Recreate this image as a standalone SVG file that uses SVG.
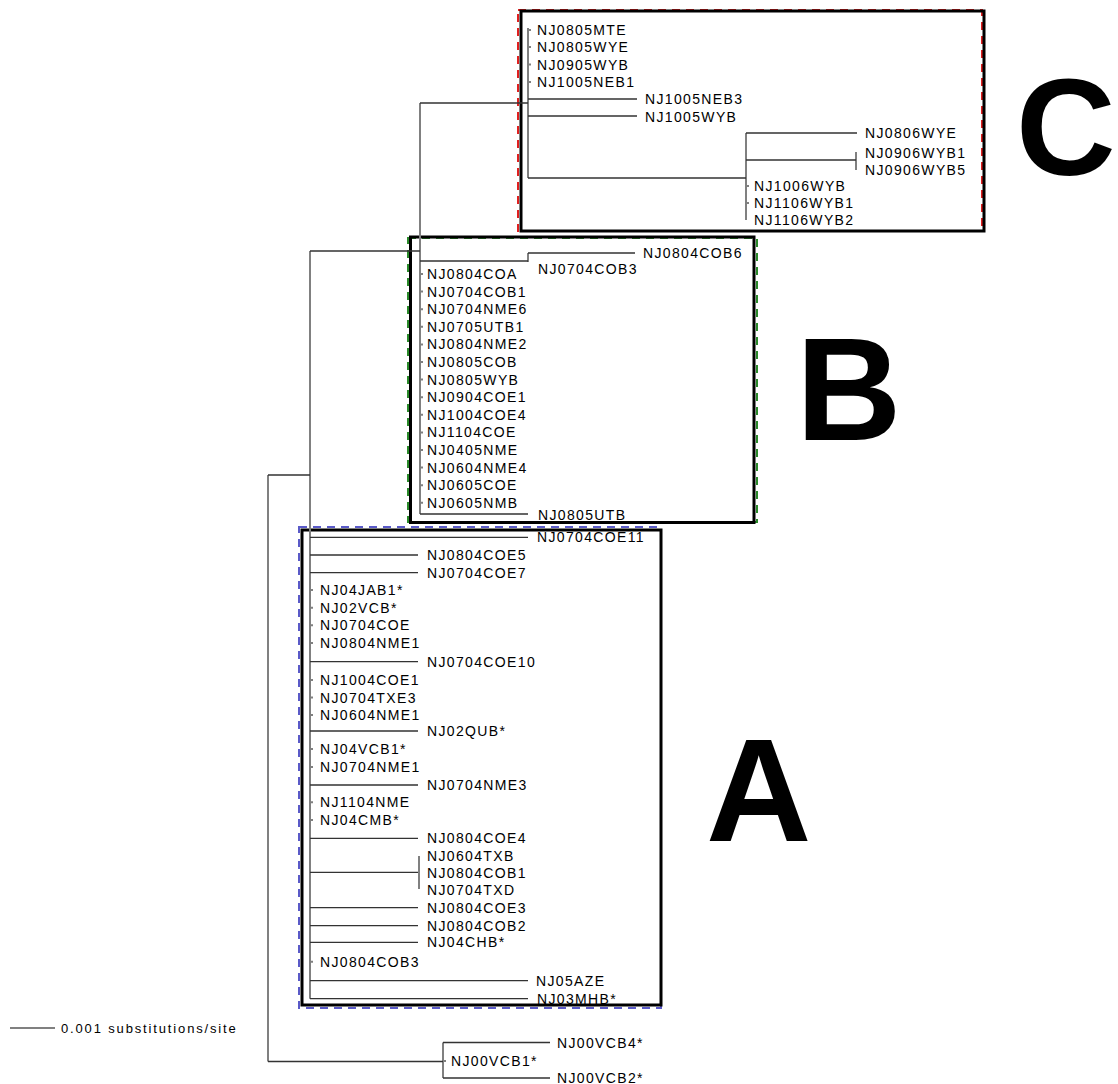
<svg xmlns="http://www.w3.org/2000/svg" width="1118" height="1084" viewBox="0 0 1118 1084">
<style>
.v{stroke:#808080;stroke-width:2;fill:none}
.h{stroke:#333;stroke-width:1.3;fill:none}
.t{font-family:"Liberation Sans",Arial,sans-serif;font-size:14px;letter-spacing:1.35px;fill:#000}
.big{font-family:"Liberation Sans",Arial,sans-serif;font-weight:bold;font-size:146px;fill:#000}
.box{fill:none;stroke:#000;stroke-width:3}
</style>
<rect width="1118" height="1084" fill="#fff"/>
<g id="boxes">
<rect x="518" y="10" width="464" height="221" fill="none" stroke="#e02020" stroke-width="2" stroke-dasharray="8,6"/>
<rect x="521" y="11" width="463" height="220" class="box"/>
<rect x="408" y="238" width="349" height="284" fill="none" stroke="#2a8a2a" stroke-width="2" stroke-dasharray="8,6"/>
<rect x="410.5" y="237" width="343.5" height="285.5" class="box"/>
<rect x="299" y="527" width="362" height="481" fill="none" stroke="#5a5ac8" stroke-width="2" stroke-dasharray="8,6"/>
<rect x="302" y="530" width="359" height="475" class="box"/>
</g>
<g id="connectors">
<path class="v" d="M268 475V1061.5M443 1042.5V1078M310 251V998.7M420 103V514M528 253V262M528 28V178M746 133V220M856 152V170M419 856V889"/>
<path class="h" d="M268 475H310M268 1061.5H443M443 1042.5H550M443 1078H550M310 251H420M420 103H528M420 261H528M420 514H528M528 253H635M528 99H637M528 116H637M528 178H746M746 133H857M746 160H856"/>
<path class="h" d="M310 537.3H528M310 555H418M310 572.7H418M310 661.7H418M310 731H418M310 785H418M310 838.3H418M310 872.3H418M310 907.7H418M310 925.7H418M310 942.3H418M310 980.7H528M310 998.7H528"/>
<path class="v" stroke-width="1" d="M528 30H531M528 47H531M528 64.5H531M528 82H531M746 186H749M746 203H749M420 274H423M420 291.6H423M420 309.2H423M420 326.8H423M420 344.4H423M420 362H423M420 379.6H423M420 397.2H423M420 414.8H423M420 432.4H423M420 450H423M420 467.6H423M420 485.2H423M420 502.8H423M310 590H313M310 607.7H313M310 625.3H313M310 643H313M310 680H313M310 697.5H313M310 715H313M310 749H313M310 767H313M310 802.3H313M310 820H313M310 961.7H313M443 1061H446"/>
<path class="v" d="M10 1028H55"/>
</g>
<g id="clade-C">
<g id="NJ0805MTE"><text class="t" x="537" y="35">NJ0805MTE</text></g>
<g id="NJ0805WYE"><text class="t" x="537" y="52">NJ0805WYE</text></g>
<g id="NJ0905WYB"><text class="t" x="537" y="69.5">NJ0905WYB</text></g>
<g id="NJ1005NEB1"><text class="t" x="537" y="87">NJ1005NEB1</text></g>
<g id="NJ1005NEB3"><text class="t" x="645" y="104.3">NJ1005NEB3</text></g>
<g id="NJ1005WYB"><text class="t" x="645" y="121.5">NJ1005WYB</text></g>
<g id="NJ0806WYE"><text class="t" x="865" y="138">NJ0806WYE</text></g>
<g id="NJ0906WYB1"><text class="t" x="865" y="157.5">NJ0906WYB1</text></g>
<g id="NJ0906WYB5"><text class="t" x="865" y="175">NJ0906WYB5</text></g>
<g id="NJ1006WYB"><text class="t" x="754" y="191">NJ1006WYB</text></g>
<g id="NJ1106WYB1"><text class="t" x="754" y="208">NJ1106WYB1</text></g>
<g id="NJ1106WYB2"><text class="t" x="754" y="225">NJ1106WYB2</text></g>
</g>
<g id="clade-B">
<g id="NJ0804COB6"><text class="t" x="643" y="258">NJ0804COB6</text></g>
<g id="NJ0704COB3"><text class="t" x="538" y="274.3">NJ0704COB3</text></g>
<g id="NJ0804COA"><text class="t" x="427" y="279">NJ0804COA</text></g>
<g id="NJ0704COB1"><text class="t" x="427" y="296.6">NJ0704COB1</text></g>
<g id="NJ0704NME6"><text class="t" x="427" y="314.2">NJ0704NME6</text></g>
<g id="NJ0705UTB1"><text class="t" x="427" y="331.8">NJ0705UTB1</text></g>
<g id="NJ0804NME2"><text class="t" x="427" y="349.4">NJ0804NME2</text></g>
<g id="NJ0805COB"><text class="t" x="427" y="367">NJ0805COB</text></g>
<g id="NJ0805WYB"><text class="t" x="427" y="384.6">NJ0805WYB</text></g>
<g id="NJ0904COE1"><text class="t" x="427" y="402.2">NJ0904COE1</text></g>
<g id="NJ1004COE4"><text class="t" x="427" y="419.8">NJ1004COE4</text></g>
<g id="NJ1104COE"><text class="t" x="427" y="437.4">NJ1104COE</text></g>
<g id="NJ0405NME"><text class="t" x="427" y="455">NJ0405NME</text></g>
<g id="NJ0604NME4"><text class="t" x="427" y="472.6">NJ0604NME4</text></g>
<g id="NJ0605COE"><text class="t" x="427" y="490.2">NJ0605COE</text></g>
<g id="NJ0605NMB"><text class="t" x="427" y="507.8">NJ0605NMB</text></g>
<g id="NJ0805UTB"><text class="t" x="538" y="520">NJ0805UTB</text></g>
</g>
<g id="clade-A">
<g id="NJ0704COE11"><text class="t" x="537" y="542.3">NJ0704COE11</text></g>
<g id="NJ0804COE5"><text class="t" x="427" y="560">NJ0804COE5</text></g>
<g id="NJ0704COE7"><text class="t" x="427" y="577.7">NJ0704COE7</text></g>
<g id="NJ04JAB1"><text class="t" x="320" y="595">NJ04JAB1*</text></g>
<g id="NJ02VCB"><text class="t" x="320" y="612.7">NJ02VCB*</text></g>
<g id="NJ0704COE"><text class="t" x="320" y="630.3">NJ0704COE</text></g>
<g id="NJ0804NME1"><text class="t" x="320" y="648">NJ0804NME1</text></g>
<g id="NJ0704COE10"><text class="t" x="427" y="666.7">NJ0704COE10</text></g>
<g id="NJ1004COE1"><text class="t" x="320" y="685">NJ1004COE1</text></g>
<g id="NJ0704TXE3"><text class="t" x="320" y="702.5">NJ0704TXE3</text></g>
<g id="NJ0604NME1"><text class="t" x="320" y="720">NJ0604NME1</text></g>
<g id="NJ02QUB"><text class="t" x="427" y="736">NJ02QUB*</text></g>
<g id="NJ04VCB1"><text class="t" x="320" y="754">NJ04VCB1*</text></g>
<g id="NJ0704NME1"><text class="t" x="320" y="772">NJ0704NME1</text></g>
<g id="NJ0704NME3"><text class="t" x="427" y="790">NJ0704NME3</text></g>
<g id="NJ1104NME"><text class="t" x="320" y="807.3">NJ1104NME</text></g>
<g id="NJ04CMB"><text class="t" x="320" y="825">NJ04CMB*</text></g>
<g id="NJ0804COE4"><text class="t" x="427" y="843.3">NJ0804COE4</text></g>
<g id="NJ0604TXB"><text class="t" x="427" y="861">NJ0604TXB</text></g>
<g id="NJ0804COB1"><text class="t" x="427" y="878">NJ0804COB1</text></g>
<g id="NJ0704TXD"><text class="t" x="427" y="895">NJ0704TXD</text></g>
<g id="NJ0804COE3"><text class="t" x="427" y="912.7">NJ0804COE3</text></g>
<g id="NJ0804COB2"><text class="t" x="427" y="930.7">NJ0804COB2</text></g>
<g id="NJ04CHB"><text class="t" x="427" y="947.3">NJ04CHB*</text></g>
<g id="NJ0804COB3"><text class="t" x="320" y="966.7">NJ0804COB3</text></g>
<g id="NJ05AZE"><text class="t" x="536" y="985.7">NJ05AZE</text></g>
<g id="NJ03MHB"><text class="t" x="537" y="1003.7">NJ03MHB*</text></g>
</g>
<g id="outgroup">
<g id="NJ00VCB4"><text class="t" x="557" y="1047.5">NJ00VCB4*</text></g>
<g id="NJ00VCB1"><text class="t" x="451" y="1066">NJ00VCB1*</text></g>
<g id="NJ00VCB2"><text class="t" x="557" y="1083">NJ00VCB2*</text></g>
</g>
<g id="scale">
<text class="t" x="61" y="1033" style="font-size:13px;letter-spacing:1.85px">0.001 substitutions/site</text>
</g>
<g id="labels">
<text class="big" x="1016" y="175" style="font-size:138px">C</text>
<text class="big" x="796" y="440">B</text>
<text class="big" x="706" y="841">A</text>
</g>
</svg>
